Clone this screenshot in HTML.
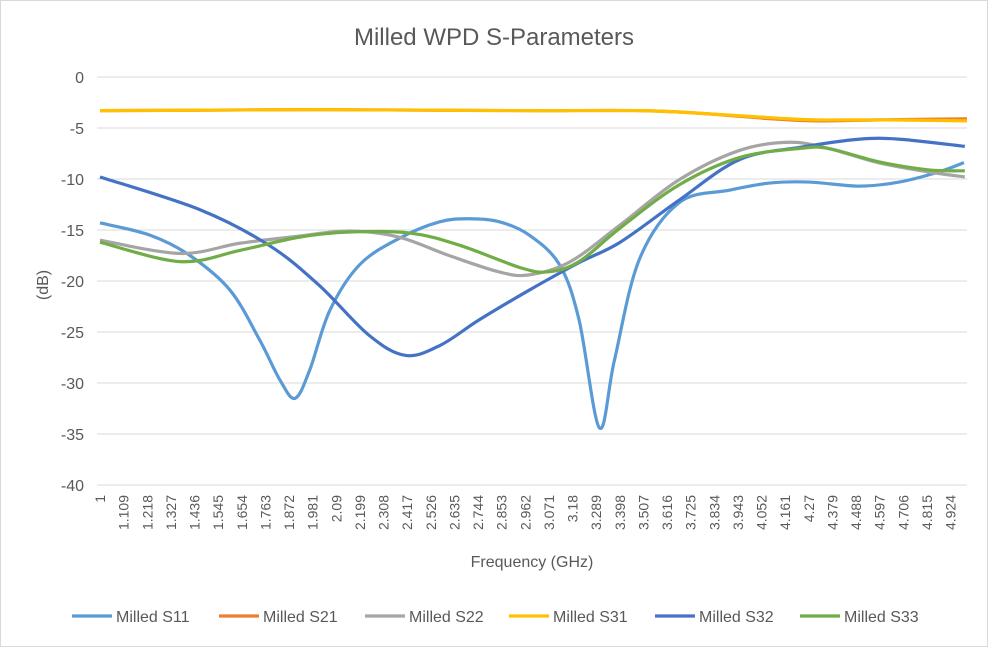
<!DOCTYPE html>
<html><head><meta charset="utf-8"><style>
body{margin:0;background:#fff;font-family:"Liberation Sans",sans-serif}
svg{display:block}
</style></head><body>
<svg id="chart" width="988" height="647">
<rect x="0.5" y="0.5" width="987" height="646" fill="#fff" stroke="#d9d9d9"/>
<text x="494" y="45" text-anchor="middle" font-size="24" fill="#595959">Milled WPD S-Parameters</text>
<text transform="translate(48,285) rotate(-90)" text-anchor="middle" font-size="16" fill="#595959">(dB)</text>
<text x="532" y="567" text-anchor="middle" font-size="16" fill="#595959">Frequency (GHz)</text>
<g id="grid"></g><g id="ticks"></g><g id="series"></g><g id="legend"></g>
</svg>
<script>
const yTicks=[0,-5,-10,-15,-20,-25,-30,-35,-40];
const xTickLabels=["1","1.109","1.218","1.327","1.436","1.545","1.654","1.763","1.872","1.981","2.09","2.199","2.308","2.417","2.526","2.635","2.744","2.853","2.962","3.071","3.18","3.289","3.398","3.507","3.616","3.725","3.834","3.943","4.052","4.161","4.27","4.379","4.488","4.597","4.706","4.815","4.924"];
const seriesNames=["Milled S11","Milled S21","Milled S22","Milled S31","Milled S32","Milled S33"];
const s11F=[1,1.23,1.415,1.6,1.737,1.83,1.9,1.968,2.06,2.198,2.382,2.567,2.705,2.843,2.98,3.12,3.21,3.304,3.373,3.488,3.673,3.903,4.088,4.272,4.502,4.687,4.871,4.986];
const s11V=[-14.3,-15.5,-17.5,-20.9,-25.8,-29.7,-31.5,-28.7,-22.9,-18.4,-15.8,-14.2,-13.9,-14.2,-15.5,-18.4,-23.8,-34.4,-27.8,-17.9,-12.3,-11.1,-10.4,-10.3,-10.7,-10.3,-9.3,-8.4];
const s21F=[1,1.5,2,2.5,3,3.5,3.8,4.1,4.3,4.6,5];
const s21V=[-3.3,-3.25,-3.2,-3.25,-3.3,-3.3,-3.6,-4.1,-4.3,-4.2,-4.1];
const s31F=[1,1.5,2,2.5,3,3.5,3.8,4.1,4.3,4.6,5];
const s31V=[-3.3,-3.25,-3.2,-3.25,-3.3,-3.3,-3.6,-4.0,-4.2,-4.2,-4.3];
const s32F=[1,1.46,1.78,2.01,2.24,2.41,2.57,2.75,2.98,3.21,3.40,3.67,3.95,4.23,4.50,4.69,4.99];
const s32V=[-9.8,-13,-16.5,-20.4,-25.3,-27.3,-26.3,-23.8,-20.9,-18.2,-16.2,-12.1,-8.1,-6.9,-6.1,-6.1,-6.8];
const s22F=[1,1.37,1.645,1.92,2.15,2.38,2.61,2.84,2.98,3.17,3.40,3.67,3.95,4.18,4.36,4.59,4.82,4.99];
const s22V=[-16,-17.3,-16.3,-15.6,-15.1,-15.7,-17.5,-19.1,-19.4,-18.1,-14.5,-10.1,-7.2,-6.4,-7.0,-8.4,-9.3,-9.8];
const s33F=[1,1.37,1.645,1.92,2.15,2.43,2.66,2.94,3.07,3.21,3.40,3.67,3.95,4.23,4.36,4.59,4.82,4.99];
const s33V=[-16.2,-18.1,-17.0,-15.7,-15.2,-15.3,-16.5,-18.7,-19.1,-18.1,-14.8,-10.6,-7.9,-7.0,-7.0,-8.3,-9.1,-9.2];

const NS="http://www.w3.org/2000/svg";
const X0=100,X1=967,Y0=77,Y1=485;
function xs(f){return X0+(f-1)/4*(X1-X0);}
function ys(v){return Y0+(0-v)/40*(Y1-Y0);}
function mk(t,a,p){const e=document.createElementNS(NS,t);for(const k in a)e.setAttribute(k,a[k]);p.appendChild(e);return e;}
const grid=document.getElementById('grid'),ticks=document.getElementById('ticks'),ser=document.getElementById('series'),leg=document.getElementById('legend');
yTicks.forEach(v=>{
  const l=mk('line',{x1:X0-3,x2:X1,y1:ys(v),y2:ys(v),stroke:'#d9d9d9','stroke-width':1},grid);
  
  
  const t=mk('text',{x:84,y:ys(v)+6,'text-anchor':'end','font-size':16,fill:'#595959'},ticks);
  t.textContent=v;
  
  
});
xTickLabels.forEach((s,i)=>{
  const x=xs(1+i*0.109)+5;
  const t=mk('text',{transform:`translate(${x},495) rotate(-90)`,'text-anchor':'end','font-size':14,fill:'#595959'},ticks);
  t.textContent=s;
  
  
});
function smooth(F,V){
  const p=F.map((f,i)=>[xs(f),ys(V[i])]);
  let d=`M${p[0][0]},${p[0][1]}`;
  for(let i=0;i<p.length-1;i++){
    const p0=p[i-1]||p[i],p1=p[i],p2=p[i+1],p3=p[i+2]||p2;
    const c1=[p1[0]+(p2[0]-p0[0])/6,p1[1]+(p2[1]-p0[1])/6];
    const c2=[p2[0]-(p3[0]-p1[0])/6,p2[1]-(p3[1]-p1[1])/6];
    d+=`C${c1[0]},${c1[1]} ${c2[0]},${c2[1]} ${p2[0]},${p2[1]}`;
  }
  return d;
}
const colors=["#5b9bd5","#ed7d31","#a5a5a5","#ffc000","#4472c4","#70ad47"];
const data=[[s11F,s11V],[s21F,s21V],[s22F,s22V],[s31F,s31V],[s32F,s32V],[s33F,s33V]];
const order=[0,1,2,4,5,3];
order.forEach(i=>{
  const p=mk('path',{d:smooth(data[i][0],data[i][1]),fill:'none',stroke:colors[i],'stroke-width':3.2,'stroke-linejoin':'round'},ser);
  
  
});
const legX=[72,219,365,509,655,800];
seriesNames.forEach((n,i)=>{
  const g=mk('g',{},leg);
  
  
  mk('line',{x1:legX[i],x2:legX[i]+40,y1:616,y2:616,stroke:colors[i],'stroke-width':3.2},g);
  const t=mk('text',{x:legX[i]+44,y:622,'font-size':16,fill:'#595959'},g);
  t.textContent=n;
});
</script>
</body></html>
